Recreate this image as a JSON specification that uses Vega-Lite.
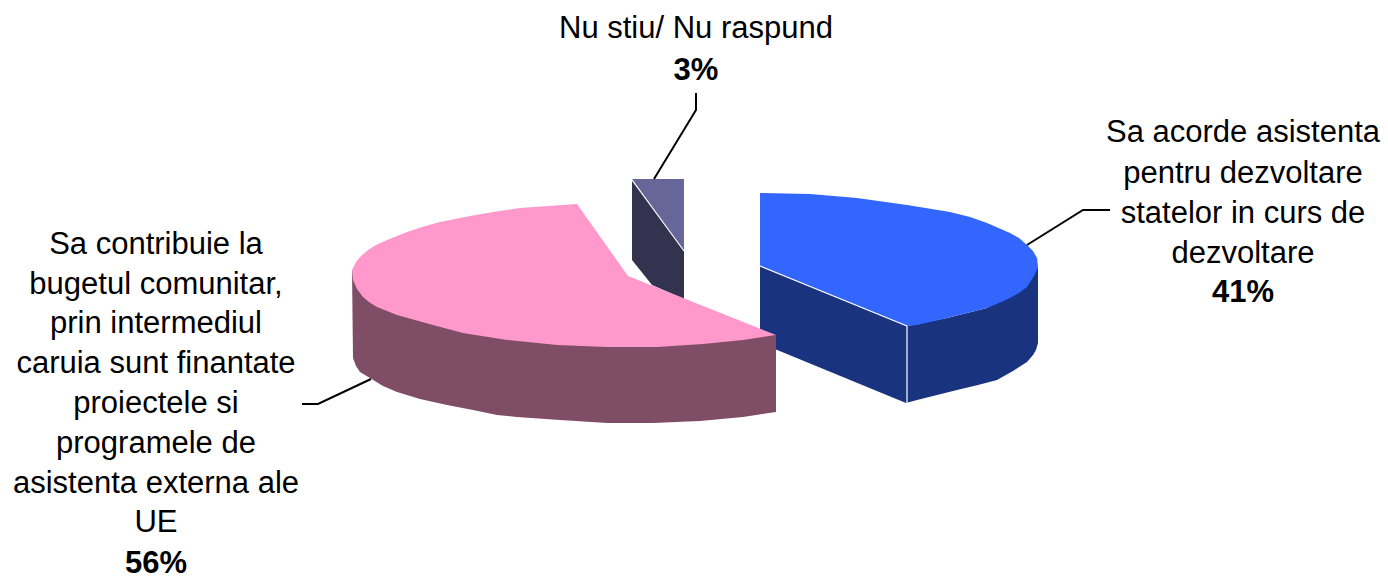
{"$schema":"https://vega.github.io/schema/vega-lite/v6.json","autosize":{"type":"fit","contains":"padding"},"width":1388,"height":579,"padding":0,"background":"white","view":{"stroke":null},
"datasets":{"shapes":[
{"p":"a Nu stiu side","i":0,"x":632,"y":180},{"p":"a Nu stiu side","i":1,"x":684,"y":250},{"p":"a Nu stiu side","i":2,"x":684,"y":299},{"p":"a Nu stiu side","i":3,"x":652,"y":285},{"p":"a Nu stiu side","i":4,"x":632,"y":260},
{"p":"b Nu stiu top","i":0,"x":632,"y":179},{"p":"b Nu stiu top","i":1,"x":684,"y":179},{"p":"b Nu stiu top","i":2,"x":684,"y":251},
{"p":"c Asistenta side","i":0,"x":760,"y":266},{"p":"c Asistenta side","i":1,"x":907,"y":326},{"p":"c Asistenta side","i":2,"x":947,"y":318},{"p":"c Asistenta side","i":3,"x":987,"y":308},{"p":"c Asistenta side","i":4,"x":1038,"y":267},{"p":"c Asistenta side","i":5,"x":1038,"y":343},{"p":"c Asistenta side","i":6,"x":1036,"y":350},{"p":"c Asistenta side","i":7,"x":1033,"y":355},{"p":"c Asistenta side","i":8,"x":1027,"y":362},{"p":"c Asistenta side","i":9,"x":1013,"y":371},{"p":"c Asistenta side","i":10,"x":997,"y":380},{"p":"c Asistenta side","i":11,"x":978,"y":385},{"p":"c Asistenta side","i":12,"x":957,"y":390},{"p":"c Asistenta side","i":13,"x":937,"y":395},{"p":"c Asistenta side","i":14,"x":917,"y":400},{"p":"c Asistenta side","i":15,"x":906,"y":403},{"p":"c Asistenta side","i":16,"x":760,"y":343},
{"p":"d Asistenta top","i":0,"x":760,"y":193},{"p":"d Asistenta top","i":1,"x":810,"y":194},{"p":"d Asistenta top","i":2,"x":857,"y":198},{"p":"d Asistenta top","i":3,"x":907,"y":205},{"p":"d Asistenta top","i":4,"x":950,"y":212},{"p":"d Asistenta top","i":5,"x":970,"y":217},{"p":"d Asistenta top","i":6,"x":987,"y":223},{"p":"d Asistenta top","i":7,"x":1010,"y":233},{"p":"d Asistenta top","i":8,"x":1019,"y":238},{"p":"d Asistenta top","i":9,"x":1027,"y":245},{"p":"d Asistenta top","i":10,"x":1033,"y":251},{"p":"d Asistenta top","i":11,"x":1037,"y":258},{"p":"d Asistenta top","i":12,"x":1038,"y":267},{"p":"d Asistenta top","i":13,"x":1034,"y":276},{"p":"d Asistenta top","i":14,"x":1027,"y":287},{"p":"d Asistenta top","i":15,"x":1019,"y":293},{"p":"d Asistenta top","i":16,"x":1010,"y":298},{"p":"d Asistenta top","i":17,"x":999,"y":303},{"p":"d Asistenta top","i":18,"x":987,"y":308},{"p":"d Asistenta top","i":19,"x":967,"y":313},{"p":"d Asistenta top","i":20,"x":947,"y":318},{"p":"d Asistenta top","i":21,"x":917,"y":325},{"p":"d Asistenta top","i":22,"x":907,"y":326},{"p":"d Asistenta top","i":23,"x":760,"y":266},
{"p":"e Buget side","i":0,"x":352,"y":270},{"p":"e Buget side","i":1,"x":607,"y":340},{"p":"e Buget side","i":2,"x":776,"y":335},{"p":"e Buget side","i":3,"x":776,"y":412},{"p":"e Buget side","i":4,"x":743,"y":417},{"p":"e Buget side","i":5,"x":700,"y":421},{"p":"e Buget side","i":6,"x":653,"y":423},{"p":"e Buget side","i":7,"x":607,"y":423},{"p":"e Buget side","i":8,"x":560,"y":420},{"p":"e Buget side","i":9,"x":517,"y":417},{"p":"e Buget side","i":10,"x":497,"y":415},{"p":"e Buget side","i":11,"x":473,"y":410},{"p":"e Buget side","i":12,"x":447,"y":405},{"p":"e Buget side","i":13,"x":420,"y":399},{"p":"e Buget side","i":14,"x":397,"y":392},{"p":"e Buget side","i":15,"x":383,"y":386},{"p":"e Buget side","i":16,"x":370,"y":378},{"p":"e Buget side","i":17,"x":360,"y":372},{"p":"e Buget side","i":18,"x":356,"y":366},{"p":"e Buget side","i":19,"x":353,"y":358},
{"p":"f Buget top","i":0,"x":577,"y":204},{"p":"f Buget top","i":1,"x":548,"y":206},{"p":"f Buget top","i":2,"x":520,"y":208},{"p":"f Buget top","i":3,"x":493,"y":212},{"p":"f Buget top","i":4,"x":470,"y":216},{"p":"f Buget top","i":5,"x":440,"y":222},{"p":"f Buget top","i":6,"x":422,"y":227},{"p":"f Buget top","i":7,"x":407,"y":232},{"p":"f Buget top","i":8,"x":387,"y":240},{"p":"f Buget top","i":9,"x":376,"y":245},{"p":"f Buget top","i":10,"x":368,"y":250},{"p":"f Buget top","i":11,"x":361,"y":256},{"p":"f Buget top","i":12,"x":356,"y":262},{"p":"f Buget top","i":13,"x":352,"y":270},{"p":"f Buget top","i":14,"x":353,"y":280},{"p":"f Buget top","i":15,"x":357,"y":289},{"p":"f Buget top","i":16,"x":363,"y":297},{"p":"f Buget top","i":17,"x":369,"y":302},{"p":"f Buget top","i":18,"x":377,"y":307},{"p":"f Buget top","i":19,"x":397,"y":315},{"p":"f Buget top","i":20,"x":433,"y":325},{"p":"f Buget top","i":21,"x":463,"y":333},{"p":"f Buget top","i":22,"x":507,"y":340},{"p":"f Buget top","i":23,"x":557,"y":345},{"p":"f Buget top","i":24,"x":607,"y":347},{"p":"f Buget top","i":25,"x":657,"y":347},{"p":"f Buget top","i":26,"x":703,"y":344},{"p":"f Buget top","i":27,"x":743,"y":340},{"p":"f Buget top","i":28,"x":776,"y":335},{"p":"f Buget top","i":29,"x":628,"y":276}
],
"edges":[
{"g":"w1","i":0,"x":907,"y":326},{"g":"w1","i":1,"x":907,"y":403},
{"g":"w2","i":0,"x":760,"y":266},{"g":"w2","i":1,"x":907,"y":326},
{"g":"w3","i":0,"x":632,"y":180},{"g":"w3","i":1,"x":684,"y":251}
],
"leaders":[
{"g":"l1","i":0,"x":1027,"y":245},{"g":"l1","i":1,"x":1083,"y":210},{"g":"l1","i":2,"x":1110,"y":210},
{"g":"l2","i":0,"x":371,"y":379},{"g":"l2","i":1,"x":318,"y":404},{"g":"l2","i":2,"x":302,"y":404},
{"g":"l3","i":0,"x":654,"y":179},{"g":"l3","i":1,"x":696,"y":110},{"g":"l3","i":2,"x":696,"y":93}
],
"labels":[
{"t":"Nu stiu/ Nu raspund","x":696,"y":29,"w":"normal"},{"t":"3%","x":696,"y":71,"w":"bold"},
{"t":"Sa acorde asistenta","x":1243,"y":133,"w":"normal"},{"t":"pentru dezvoltare","x":1243,"y":174,"w":"normal"},{"t":"statelor in curs de","x":1243,"y":214,"w":"normal"},{"t":"dezvoltare","x":1243,"y":254,"w":"normal"},{"t":"41%","x":1243,"y":293,"w":"bold"},
{"t":"Sa contribuie la","x":156,"y":245,"w":"normal"},{"t":"bugetul comunitar,","x":156,"y":285,"w":"normal"},{"t":"prin intermediul","x":156,"y":324,"w":"normal"},{"t":"caruia sunt finantate","x":156,"y":364,"w":"normal"},{"t":"proiectele si","x":156,"y":404,"w":"normal"},{"t":"programele de","x":156,"y":444,"w":"normal"},{"t":"asistenta externa ale","x":156,"y":484,"w":"normal"},{"t":"UE","x":156,"y":523,"w":"normal"},{"t":"56%","x":156,"y":564,"w":"bold"}
]},
"encoding":{
"x":{"field":"x","type":"quantitative","scale":{"domain":[0,1388],"nice":false,"zero":false},"axis":null},
"y":{"field":"y","type":"quantitative","scale":{"domain":[579,0],"nice":false,"zero":false},"axis":null}},
"layer":[
{"data":{"name":"shapes"},"mark":{"type":"line","filled":true,"strokeWidth":0,"clip":false},
"encoding":{"order":{"field":"i"},"detail":{"field":"p"},
"color":{"field":"p","type":"nominal","legend":null,"sort":null,"scale":{"domain":["a Nu stiu side","b Nu stiu top","c Asistenta side","d Asistenta top","e Buget side","f Buget top"],"range":["#333350","#666699","#1A337F","#3366FF","#804D66","#FF99CC"]}}}},
{"data":{"name":"edges"},"mark":{"type":"line","color":"white","strokeWidth":1.2},"encoding":{"order":{"field":"i"},"detail":{"field":"g"}}},
{"data":{"name":"leaders"},"mark":{"type":"line","color":"black","strokeWidth":2},"encoding":{"order":{"field":"i"},"detail":{"field":"g"}}},
{"data":{"name":"labels"},"transform":[{"filter":"datum.w==='normal'"}],"mark":{"type":"text","font":"Liberation Sans","fontSize":31,"align":"center","baseline":"middle","color":"black"},"encoding":{"text":{"field":"t"}}},
{"data":{"name":"labels"},"transform":[{"filter":"datum.w==='bold'"}],"mark":{"type":"text","font":"Liberation Sans","fontSize":31,"fontWeight":"bold","align":"center","baseline":"middle","color":"black"},"encoding":{"text":{"field":"t"}}}
]}
